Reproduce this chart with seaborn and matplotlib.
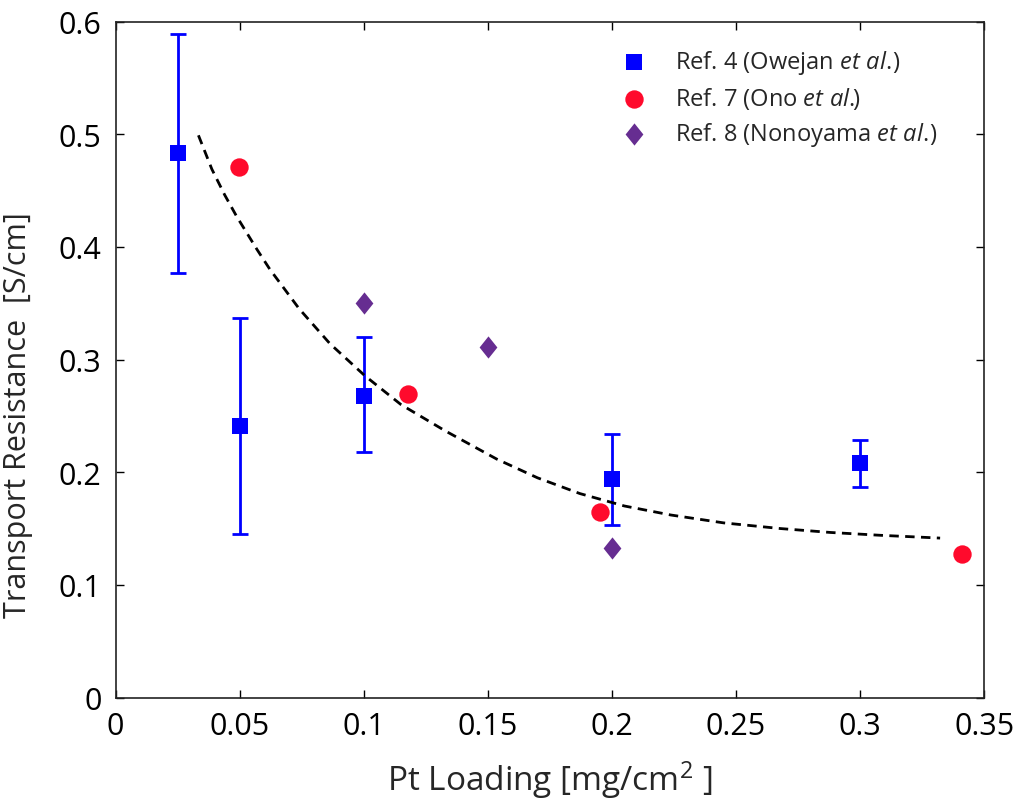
import numpy as np
import pandas as pd
import seaborn as sns
from matplotlib import pyplot as plt

# Ref. 4 (Owejan et al.) -- squares with error bars
owejan_x = [0.025, 0.05, 0.10, 0.20, 0.30]
owejan_y = [0.483, 0.241, 0.268, 0.194, 0.208]
owejan_lo = [0.377, 0.145, 0.218, 0.153, 0.187]
owejan_hi = [0.589, 0.337, 0.320, 0.234, 0.229]

# Ref. 7 (Ono et al.) -- circles
ono_x = [0.0496, 0.118, 0.195, 0.341]
ono_y = [0.471, 0.269, 0.165, 0.127]

# Ref. 8 (Nonoyama et al.) -- diamonds
nono_x = [0.100, 0.150, 0.200]
nono_y = [0.350, 0.311, 0.133]

# dashed trend curve
fit_x = [0.0334, 0.0388, 0.0440, 0.0488, 0.0569, 0.0622, 0.0740, 0.0864,
         0.1005, 0.1150, 0.1328, 0.1536, 0.1700, 0.1871, 0.2050, 0.2237,
         0.2450, 0.2677, 0.2880, 0.3080, 0.3322]
fit_y = [0.499, 0.469, 0.446, 0.427, 0.398, 0.380, 0.345, 0.314,
         0.2855, 0.260, 0.2367, 0.2116, 0.195, 0.181, 0.170, 0.162,
         0.155, 0.150, 0.1465, 0.144, 0.1415]

x_ticks = [0, 0.05, 0.1, 0.15, 0.2, 0.25, 0.3, 0.35]
x_ticklabels = ["0", "0.05", "0.1", "0.15", "0.2", "0.25", "0.3", "0.35"]
y_ticks = [0, 0.1, 0.2, 0.3, 0.4, 0.5, 0.6]
y_ticklabels = ["0", "0.1", "0.2", "0.3", "0.4", "0.5", "0.6"]

labels = [
    r"Ref. 4 (Owejan $\mathit{et\ al.}\!$)",
    r"Ref. 7 (Ono $\mathit{et\ al.}\!\!\mathit{)}$",
    r"Ref. 8 (Nonoyama $\mathit{et\ al.}\!$)",
]

sns.set_style("ticks")
plt.rcParams["font.family"] = ["Open Sans", "DejaVu Sans"]
plt.rcParams["mathtext.fontset"] = "custom"
plt.rcParams["mathtext.rm"] = "Open Sans"
plt.rcParams["mathtext.it"] = "Open Sans:italic"

blue = "#0000FF"
red = "#FF0A2C"
purple = "#662D91"
diamond = [(-0.8, 0), (0, 1), (0.8, 0), (0, -1), (-0.8, 0)]

fig = plt.figure(figsize=(10.16, 8.04), dpi=100)
ax = fig.add_axes([0.1137, 0.1312, 0.8551, 0.8408])

owejan = pd.DataFrame({"x": owejan_x, "y": owejan_y})
yerr = np.array([np.subtract(owejan_y, owejan_lo), np.subtract(owejan_hi, owejan_y)])
ax.errorbar(owejan_x, owejan_y, yerr=yerr, fmt="none", ecolor=blue,
            elinewidth=2, capsize=5.5, capthick=2, zorder=2)

sns.lineplot(x=fit_x, y=fit_y, ax=ax, color="black", lw=2.0,
             linestyle=(0, (3.4, 2.3)), sort=False, zorder=3)

sns.scatterplot(data=owejan, x="x", y="y", ax=ax, color=blue, marker="s",
                s=120, linewidth=0, label=labels[0], zorder=4)
sns.scatterplot(x=ono_x, y=ono_y, ax=ax, color=red, marker="o",
                s=175, linewidth=0, label=labels[1], zorder=4)
sns.scatterplot(x=nono_x, y=nono_y, ax=ax, color=purple, marker=diamond,
                s=256, linewidth=0, label=labels[2], zorder=4)

ax.set_xlim(0, 0.35)
ax.set_ylim(0, 0.6)
ax.set_xticks(x_ticks)
ax.set_xticklabels(x_ticklabels)
ax.set_yticks(y_ticks)
ax.set_yticklabels(y_ticklabels)
ax.tick_params(direction="in", top=True, right=True, length=6, width=1,
               labelsize=22, pad=10, colors="black")
for sp in ax.spines.values():
    sp.set_visible(True)
    sp.set_linewidth(1.2)
    sp.set_color("#222222")

ax.set_xlabel(r"Pt Loading [mg/cm$^{2}$ ]", fontsize=24, labelpad=12)
ax.set_ylabel("Transport Resistance  [S/cm]", fontsize=22)
ax.yaxis.set_label_coords(-0.095, 0.42)

ax.legend(loc="upper left", bbox_to_anchor=(0.562, 0.985), frameon=False,
          fontsize=17, handletextpad=1.1, labelspacing=0.38, borderpad=0.2,
          handlelength=1.2)

fig.savefig("out.png", dpi=100)
